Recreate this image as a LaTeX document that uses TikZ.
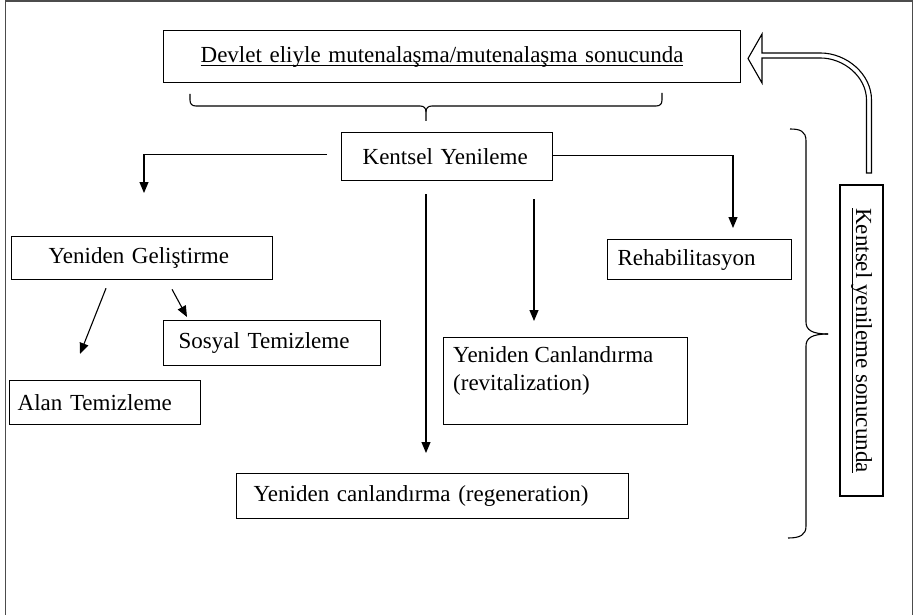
\documentclass[tikz,border=0pt]{standalone}
\usepackage{fontspec}
\setmainfont{Liberation Serif}
\usetikzlibrary{arrows.meta,calc}
\newcommand\ulx[1]{\setbox0\hbox{#1}\rlap{\rule[-4pt]{\wd0}{1.1pt}}\box0}
\tikzset{
  box/.style={draw, line width=1.3pt, inner ysep=0pt, align=left, font=\fontsize{23}{28}\selectfont, anchor=north west},
  arr/.style={-{Triangle[length=11pt,width=9pt]}, line width=1.1pt},
  brc/.style={line width=1.1pt},
  frame/.style={line width=1.6pt, draw=black!70}
}
\begin{document}
\begin{tikzpicture}[x=1pt,y=-1pt]
\useasboundingbox (0,0) rectangle (915,615);
\draw[frame] (5.5,615) -- (5.5,1) -- (912.5,1) -- (912.5,615);

% boxes
\node[box, minimum height=52, text width=503, inner xsep=37] (top) at (163,30) {\ulx{Devlet eliyle mutenalaşma/mutenalaşma sonucunda}};
\node[box, minimum height=48, text width=169, inner xsep=21] (kent) at (341,132) {Kentsel Yenileme};
\node[box, minimum height=43, text width=187, inner xsep=37] (yg) at (11,236) {Yeniden Geliştirme};
\node[box, minimum height=45, text width=187, inner xsep=15] (sos) at (163,320) {Sosyal Temizleme};
\node[box, minimum height=44, text width=175, inner xsep=8] (alan) at (9,380) {Alan Temizleme};
\node[box, minimum height=45, text width=358, inner xsep=17] (regen) at (236,473) {Yeniden canlandırma (regeneration)};
\node[box, minimum height=40, text width=164, inner xsep=10] (reh) at (607,239) {Rehabilitasyon};
\node[box, minimum height=87, minimum width=244, inner xsep=0] (rev) at (443,337) {};
\node[anchor=north west, inner sep=0pt, align=left, font=\fontsize{23}{28}\selectfont] (revt) at ([xshift=10pt,yshift=-9pt]rev.north west) {Yeniden Canlandırma\\(revitalization)};
\node[draw, line width=1.3pt, rotate=-90, minimum width=311, minimum height=43, inner sep=0pt, font=\fontsize{23}{28}\selectfont] (vb) at (861.5,340.5) {\ulx{Kentsel yenileme sonucunda}};

% arrow tip coordinates
\coordinate (tyg) at (144,193);
\coordinate (treh) at (733,228);
\coordinate (treg) at (426,453);
\coordinate (trev) at (534,321);
\coordinate (talan) at (80,354);
\coordinate (tsos) at (187,317);

\draw[arr] ($(kent.west)+(-14,-2)$) -| (tyg);
\draw[arr] ($(kent.east)+(0,-1)$) -| (treh);
\draw[arr] ($(kent.south -| treg)+(0,13)$) -- (treg);
\draw[arr] ($(kent.south -| trev)+(0,18)$) -- (trev);
\draw[arr] ($(yg.south west)+(95,8)$) -- (talan);
\draw[arr] ($(yg.south west)+(161,9)$) -- (tsos);

% top brace
\draw[brc] (190,94) -- (190,100) .. controls (190,104) and (192,106) .. (196,106)
  -- (420,106) .. controls (424,106) and (426,108) .. (426,112) -- (426,121);
\draw[brc] (426,112) .. controls (426,108) and (428,106) .. (432,106)
  -- (656,106) .. controls (660,106) and (662,104) .. (662,100) -- (662,93);
% right brace
\draw[brc] (790,129) .. controls (800,129) and (806,131) .. (806,141)
  -- (806,322) .. controls (806,330) and (812,334) .. (828,334);
\draw[brc] (828,334) .. controls (812,334) and (806,338) .. (806,346)
  -- (806,526) .. controls (806,535) and (800,538) .. (788,538);

% hollow return arrow
\draw[line width=1.1pt, line join=miter]
  (866.5,173) -- (866.5,100)
  .. controls (866.5,76.8) and (843.7,58) .. (820.5,58)
  -- (762,58) -- (762,83) -- (748,58.5) -- (762,34) -- (762,53)
  -- (820.5,53)
  .. controls (846.4,53) and (871.5,73.9) .. (871.5,100)
  -- (871.5,173) -- cycle;
\end{tikzpicture}
\end{document}
